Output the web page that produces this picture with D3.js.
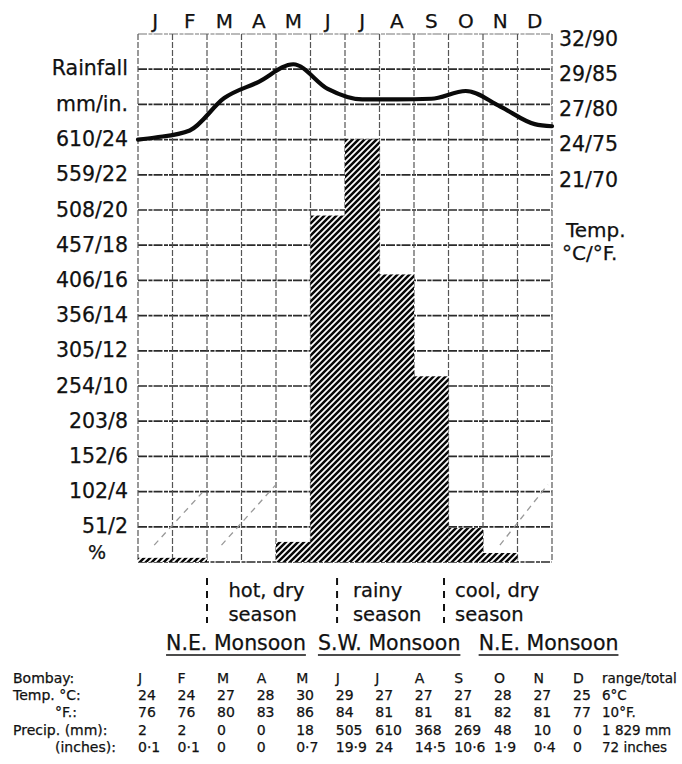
<!DOCTYPE html>
<html>
<head>
<meta charset="utf-8">
<script src="https://cdn.jsdelivr.net/npm/d3@7"></script>
<style>
  body { margin: 0; background: #fff; }
  svg { display: block; }
  text { font-family: "DejaVu Sans", sans-serif; fill: #111; stroke: #111; stroke-width: 0.25px; }
</style>
</head>
<body>
<svg id="chart" width="682" height="764"></svg>
<script>
// ---- data ----
const months = ["J","F","M","A","M","J","J","A","S","O","N","D"]
// rainfall bars as drawn on the grid (mm)
const rainBarMm = [6, 6, 0, 0, 29, 500, 610, 415, 268, 49, 13, 0]
// temperature curve as drawn (°F), mid-month, plus its two ends
const tempCurveF = [75.3, 76.3, 80.9, 83.2, 85.7, 82.2, 80.7, 80.7, 80.8, 81.9, 79.7, 77.2]
const tempCurveEnds = [75.0, 76.9]

const rainTickMm = [51, 102, 152, 203, 254, 305, 356, 406, 457, 508, 559, 610]
const rainTickIn = [2, 4, 6, 8, 10, 12, 14, 16, 18, 20, 22, 24]
const tempTickC = [21, 24, 27, 29, 32]
const tempTickF = [70, 75, 80, 85, 90]

const seasons = ["hot, dry", "rainy", "cool, dry"]
const seasonSplit = [2, 5.77, 8.87]     // month units
const seasonText = [2.62, 6.23, 9.19]
const monsoons = ["N.E. Monsoon", "S.W. Monsoon", "N.E. Monsoon"]
const monsoonMid = [2.84, 7.28, 11.9]

// table under the chart
const tableTempC = ["24","24","27","28","30","29","27","27","27","28","27","25"]
const tableTempF = ["76","76","80","83","86","84","81","81","81","82","81","77"]
const tablePrecMm = ["2","2","0","0","18","505","610","368","269","48","10","0"]
const tablePrecIn = ["0·1","0·1","0","0","0·7","19·9","24","14·5","10·6","1·9","0·4","0"]
const tableTotals = ["range/total", "6°C", "10°F.", "1 829 mm", "72 inches"]

// pencil arrows (month units, inches)
const arrows = [[[0.47, 0.96], [1.86, 3.94]], [[2.42, 0.96], [4.0, 4.4]], [[10.49, 0.96], [11.88, 4.4]]]

// ---- scales ----
const svg = d3.select("#chart")
svg.append("rect").attr("width", 682).attr("height", 764).attr("fill", "#fff")

const gLeft = 138, gRight = 552, gTop = 34, gBottom = 562
const x = d3.scaleBand().domain(d3.range(12)).range([gLeft, gRight])
const xu = d3.scaleLinear().domain([0, 12]).range([gLeft, gRight])
const yIn = d3.scaleLinear().domain([0, 30]).range([gBottom, gTop])
const yF = d3.scaleLinear().domain([15, 90]).range([gBottom, gTop])

const defs = svg.append("defs")
const pat = defs.append("pattern").attr("id", "hatch")
  .attr("patternUnits", "userSpaceOnUse").attr("width", 6).attr("height", 6)
pat.append("rect").attr("width", 6).attr("height", 6).attr("fill", "#fff")
pat.append("path").attr("d", "M-1,1L1,-1M0,6L6,0M5,7L7,5")
  .attr("stroke", "#080808").attr("stroke-width", 2.5)

// ---- grid ----
const grid = svg.append("g")
grid.selectAll(".h").data(d3.range(0, 31, 2)).join("line")
  .attr("x1", gLeft).attr("x2", gRight)
  .attr("y1", d => yIn(d)).attr("y2", d => yIn(d))
  .attr("stroke", d => d == 30 ? "#777" : "#2a2a2a")
  .attr("stroke-width", d => d == 30 ? 1.2 : 1.7)
  .attr("stroke-dasharray", "9,1.5,4,1")
grid.selectAll(".v").data(d3.range(13)).join("line")
  .attr("x1", d => xu(d)).attr("x2", d => xu(d))
  .attr("y1", gTop).attr("y2", gBottom)
  .attr("stroke", "#555").attr("stroke-width", 1.2)
  .attr("stroke-dasharray", "6,2")

// pencil arrows
svg.append("g").selectAll("line").data(arrows).join("line")
  .attr("x1", d => xu(d[0][0])).attr("y1", d => yIn(d[0][1]))
  .attr("x2", d => xu(d[1][0])).attr("y2", d => yIn(d[1][1]))
  .attr("stroke", "#999").attr("stroke-width", 1.3).attr("stroke-dasharray", "6,5")

// ---- bars ----
svg.append("g").selectAll("rect").data(rainBarMm).join("rect")
  .attr("x", (d, i) => x(i)).attr("width", x.bandwidth())
  .attr("y", d => yIn(d / 25.4)).attr("height", d => gBottom - yIn(d / 25.4))
  .attr("fill", "url(#hatch)")

// ---- temperature curve ----
const pts = [[0, tempCurveEnds[0]]].concat(tempCurveF.map((v, i) => [i + 0.5, v]), [[12, tempCurveEnds[1]]])
svg.append("path").datum(pts)
  .attr("d", d3.line().x(d => xu(d[0])).y(d => yF(d[1])).curve(d3.curveMonotoneX))
  .attr("fill", "none").attr("stroke", "#0a0a0a").attr("stroke-width", 4.2)
  .attr("stroke-linecap", "round")

// ---- axes ----
const fs = 20.5
const ax = svg.append("g").attr("transform", `translate(0,${gTop})`)
  .call(d3.axisTop(x).tickFormat(i => months[i]).tickSize(0).tickPadding(6))
ax.select(".domain").remove()
ax.selectAll("text").attr("font-size", 20).attr("font-family", "DejaVu Sans").attr("fill", "#111")

const al = svg.append("g").attr("transform", `translate(${gLeft},0)`)
  .call(d3.axisLeft(yIn).tickValues(rainTickIn).tickFormat((d, i) => rainTickMm[i] + "/" + d).tickSize(0).tickPadding(10))
al.select(".domain").remove()
al.selectAll("text").attr("font-size", fs).attr("font-family", "DejaVu Sans").attr("fill", "#111").attr("dy", "0.3em")

const ar = svg.append("g").attr("transform", `translate(${gRight},0)`)
  .call(d3.axisRight(yF).tickValues(tempTickF).tickFormat((d, i) => tempTickC[i] + "/" + d).tickSize(0).tickPadding(7))
ar.select(".domain").remove()
ar.selectAll("text").attr("font-size", fs).attr("font-family", "DejaVu Sans").attr("fill", "#111").attr("dy", "0.55em")

svg.append("text").attr("x", 128).attr("y", yIn(28)).attr("dy", "0.3em")
  .attr("text-anchor", "end").attr("font-size", fs).text("Rainfall")
svg.append("text").attr("x", 128).attr("y", yIn(26)).attr("dy", "0.3em")
  .attr("text-anchor", "end").attr("font-size", fs).text("mm/in.")
svg.append("text").attr("x", 97).attr("y", 559)
  .attr("text-anchor", "middle").attr("font-size", 19).text("%")
svg.append("text").attr("x", 566).attr("y", 237).attr("font-size", 20).text("Temp.")
svg.append("text").attr("x", 562).attr("y", 260).attr("font-size", 20).text("°C/°F.")

// ---- seasons ----
const sg = svg.append("g")
sg.selectAll("line").data(seasonSplit).join("line")
  .attr("x1", d => xu(d)).attr("x2", d => xu(d)).attr("y1", 578).attr("y2", 623)
  .attr("stroke", "#111").attr("stroke-width", 2).attr("stroke-dasharray", "7,6")
sg.selectAll(".s1").data(seasons).join("text")
  .attr("x", (d, i) => xu(seasonText[i])).attr("y", 597).attr("font-size", 19.5).text(d => d)
sg.selectAll(".s2").data(seasons).join("text")
  .attr("x", (d, i) => xu(seasonText[i])).attr("y", 621).attr("font-size", 19.5).text("season")

const mg = svg.append("g")
mg.selectAll("text").data(monsoons).join("text")
  .attr("x", (d, i) => xu(monsoonMid[i])).attr("y", 650)
  .attr("text-anchor", "middle").attr("font-size", 20.5).text(d => d)
  .each(function () {
    const b = this.getBBox()
    mg.append("line").attr("x1", b.x).attr("x2", b.x + b.width)
      .attr("y1", 655).attr("y2", 655).attr("stroke", "#111").attr("stroke-width", 1.6)
  })

// ---- table ----
const tx = d3.scaleLinear().domain([0, 11]).range([138, 573])
const rowY = [683, 700, 717, 735, 752]
const rowLabels = [["Bombay:", 13], ["Temp. °C:", 13], ["°F.:", 55], ["Precip. (mm):", 13], ["(inches):", 55]]
const rows = [months, tableTempC, tableTempF, tablePrecMm, tablePrecIn]
const tg = svg.append("g").attr("font-size", 14)
rowLabels.forEach((r, j) => {
  tg.append("text").attr("x", r[1]).attr("y", rowY[j]).text(r[0])
  tg.selectAll(".r" + j).data(rows[j]).join("text")
    .attr("x", (d, i) => tx(i)).attr("y", rowY[j]).text(d => d)
  tg.append("text").attr("x", 602).attr("y", rowY[j]).attr("font-size", 13.5).text(tableTotals[j])
})
</script>
</body>
</html>
